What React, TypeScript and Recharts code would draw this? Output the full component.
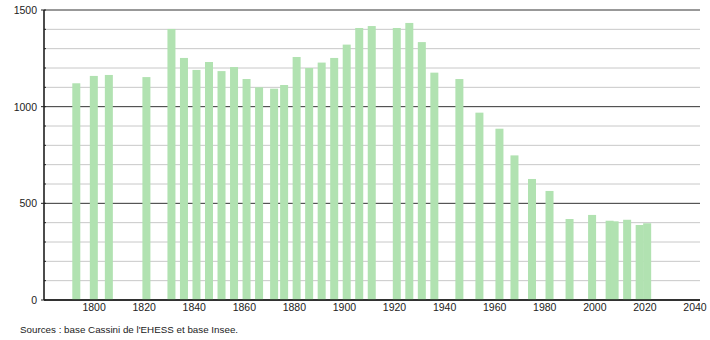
import { BarChart, Bar, XAxis, YAxis, CartesianGrid } from 'recharts';

const years = [
  1793, 1800, 1806, 1821, 1831, 1836, 1841, 1846, 1851, 1856, 1861, 1866, 1872, 1876, 1881, 1886, 1891,
  1896, 1901, 1906, 1911, 1921, 1926, 1931, 1936, 1946, 1954, 1962, 1968, 1975, 1982, 1990, 1999, 2006,
  2008, 2013, 2018, 2021,
];
const population = [
  1121, 1159, 1164, 1153, 1402, 1252, 1190, 1231, 1184, 1205, 1143, 1100, 1093, 1112, 1257, 1200, 1228,
  1252, 1321, 1407, 1417, 1407, 1433, 1334, 1176, 1143, 969, 886, 748, 626, 564, 419, 440, 410,
  407, 415, 388, 397,
];
const yearTicks = [1800, 1820, 1840, 1860, 1880, 1900, 1920, 1940, 1960, 1980, 2000, 2020, 2040];
const popTicks = [0, 100, 200, 300, 400, 500, 600, 700, 800, 900, 1000, 1100, 1200, 1300, 1400, 1500];
const labelledTicks = [0, 500, 1000, 1500];

const data = years.map((y, i) => ({ year: y, pop: population[i] }));

const font = '"Liberation Sans", Arial, sans-serif';

const YTick = (props: any) => {
  const { x, y, payload } = props;
  const major = labelledTicks.includes(payload.value);
  return (
    <g>
      <line x1={x + 8 - (major ? 5 : 2)} x2={x + 8} y1={y} y2={y} stroke="#222" strokeWidth={1} />
      {major && (
        <text x={x - 1} y={y} dy={4} textAnchor="end" fontSize={10.5} fill="#222" fontFamily={font}>
          {payload.value}
        </text>
      )}
    </g>
  );
};

const GridLine = (props: any) => {
  const { x1, x2, y1, y2, index } = props;
  const major = index % 5 === 0;
  return <line x1={x1} x2={x2} y1={y1} y2={y2} stroke={major ? '#333' : '#c8c8c8'} strokeWidth={1} />;
};

const WideBar = (props: any) => {
  const { x, y, width, height, fill } = props;
  if (!height) return null;
  return <rect x={x + width / 2 - 4} y={y} width={8} height={height} fill={fill} />;
};

export default function App() {
  return (
    <div style={{ position: 'absolute', left: 0, top: 0, width: 710, height: 340, background: '#fff' }}>
      <BarChart
        width={710}
        height={340}
        data={data}
        margin={{ top: 10, right: 10, left: 0, bottom: 20 }}
        barSize={8}
      >
        <CartesianGrid vertical={false} horizontal={GridLine} />
        <XAxis
          dataKey="year"
          type="number"
          domain={[1780, 2042]}
          ticks={yearTicks}
          tickLine={false}
          tickSize={2}
          tickMargin={2}
          axisLine={{ stroke: '#111', strokeWidth: 1.5 }}
          tick={{ fontSize: 10.5, fill: '#222', fontFamily: font }}
          height={20}
          allowDataOverflow
        />
        <YAxis
          type="number"
          domain={[0, 1500]}
          ticks={popTicks}
          interval={0}
          width={44}
          tickLine={false}
          axisLine={{ stroke: '#111', strokeWidth: 1.5 }}
          tick={<YTick />}
          tickMargin={0}
        />
        <Bar dataKey="pop" fill="#b1e2b1" shape={<WideBar />} isAnimationActive={false} />
      </BarChart>
      <div
        style={{
          position: 'absolute',
          left: 20,
          top: 324,
          fontSize: 9.8,
          fontFamily: font,
          color: '#222',
          whiteSpace: 'nowrap',
        }}
      >
        Sources : base Cassini de l'EHESS et base Insee.
      </div>
    </div>
  );
}
